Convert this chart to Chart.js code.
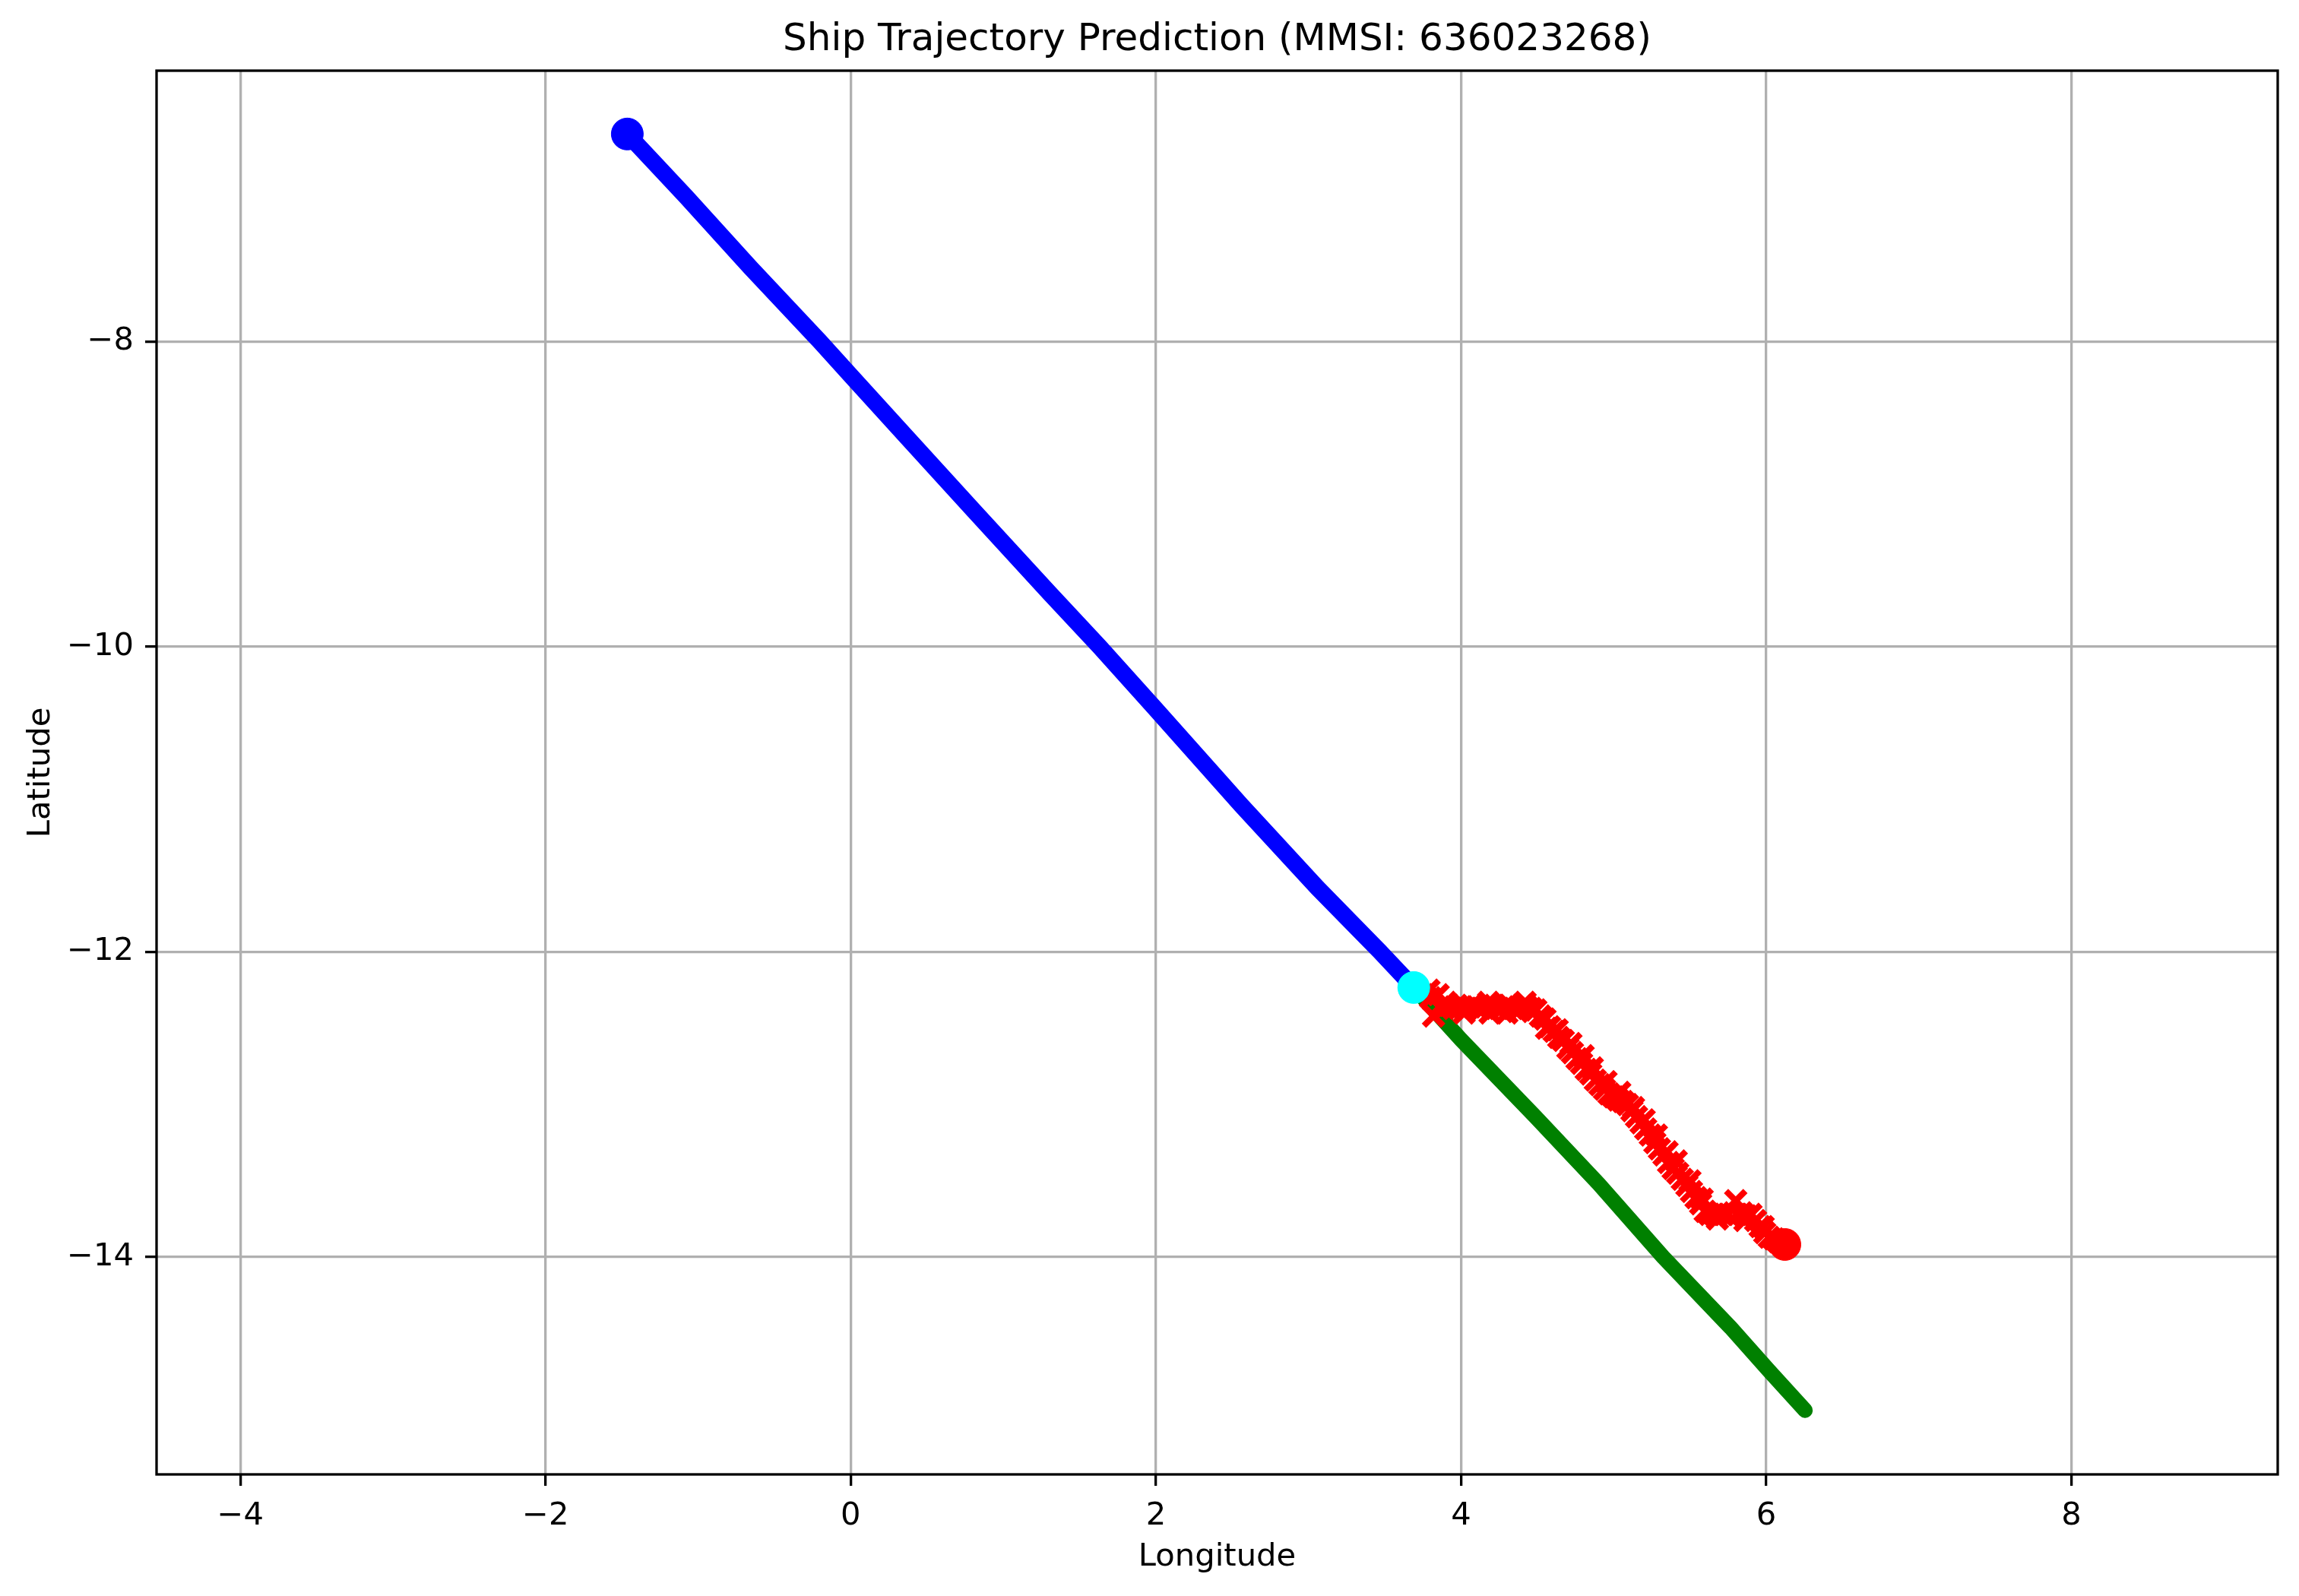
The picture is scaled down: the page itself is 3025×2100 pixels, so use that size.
<!DOCTYPE html>
<html>
<head>
<meta charset="utf-8">
<script src="https://cdn.jsdelivr.net/npm/chart.js@4.4.1/dist/chart.umd.min.js"></script>
<style>
  html, body { margin: 0; padding: 0; background: #fff; }
  canvas { display: block; }
</style>
</head>
<body>
<canvas id="trajChart" width="3025" height="2100" style="width:3025px;height:2100px"></canvas>
<script>
// historical track (blue)
const histLon = [-1.464, -1.079, -0.657, -0.201, 0.0, 0.367, 0.811, 1.301, 1.63, 2.0, 2.561, 3.059, 3.466, 3.69];
const histLat = [-6.639, -7.05, -7.515, -8.0, -8.222, -8.626, -9.112, -9.646, -9.998, -10.41, -11.04, -11.58, -11.995, -12.233];

// actual future track (green)
const trueLon = [3.69, 4.0, 4.487, 4.902, 5.325, 5.765, 6.014, 6.255];
const trueLat = [-12.233, -12.575, -13.08, -13.52, -14.0, -14.46, -14.74, -15.004];

// predicted track (red x)
const predLon = [3.79, 3.80, 3.82, 3.85, 3.86, 3.89, 3.92, 3.95, 3.98, 4.01, 4.04, 4.07, 4.10, 4.13, 4.16, 4.19, 4.22, 4.25, 4.28, 4.31, 4.34, 4.37, 4.40, 4.43, 4.46,
  4.49, 4.52, 4.55, 4.58, 4.61, 4.64, 4.67, 4.70, 4.73, 4.76, 4.79, 4.82, 4.85, 4.88, 4.91, 4.94, 4.97, 5.00, 5.03, 5.06, 5.09, 5.12, 5.15, 5.18,
  5.21, 5.24, 5.27, 5.30, 5.33, 5.36, 5.39, 5.42, 5.45, 5.48, 5.51, 5.54, 5.57, 5.60,
  5.63, 5.66, 5.69, 5.72, 5.75, 5.80, 5.81, 5.84, 5.87, 5.90, 5.93, 5.96, 5.99, 6.02, 6.05, 6.08,
  3.90, 4.02, 4.18, 4.30, 4.42, 4.56, 4.63, 4.72, 4.80, 4.86, 4.95, 5.04, 5.13, 5.20, 5.28, 5.35, 5.41, 5.50, 5.58, 5.68, 5.86, 5.98];
const predLat = [-12.25, -12.30, -12.42, -12.28, -12.36, -12.37, -12.35, -12.37, -12.36, -12.36, -12.37, -12.35, -12.36, -12.37, -12.36, -12.40, -12.35, -12.37, -12.36, -12.35, -12.37, -12.39, -12.35, -12.36, -12.37,
  -12.38, -12.42, -12.44, -12.49, -12.52, -12.56, -12.58, -12.63, -12.66, -12.70, -12.73, -12.77, -12.80, -12.84, -12.87, -12.90, -12.93, -12.95, -12.97, -12.98, -13.00, -13.04, -13.08, -13.12,
  -13.16, -13.20, -13.25, -13.29, -13.33, -13.38, -13.42, -13.45, -13.49, -13.53, -13.57, -13.61, -13.65, -13.70,
  -13.72, -13.72, -13.71, -13.72, -13.72, -13.63, -13.72, -13.71, -13.73, -13.72, -13.76, -13.80, -13.84, -13.87, -13.88, -13.90,
  -12.33, -12.40, -12.33, -12.40, -12.33, -12.50, -12.51, -12.60, -12.68, -12.76, -12.85, -12.92, -13.02, -13.10, -13.20, -13.31, -13.37, -13.50, -13.62, -13.75, -13.76, -13.80];

const startPt = [-1.464, -6.639];
const currentPt = [3.69, -12.233];
const predEndPt = [6.122, -13.917];

const xTicks = [-4, -2, 0, 2, 4, 6, 8];
const yTicks = [-14, -12, -10, -8];
const xRange = [-4.549, 9.352];
const yRange = [-15.424, -6.224];

const titleText = "Ship Trajectory Prediction (MMSI: 636023268)";
const FONT = "DejaVu Sans";

function toPoints(xs, ys) {
  return xs.map((x, i) => ({ x: x, y: ys[i] }));
}

function fmtTick(v) {
  return v < 0 ? "\u2212" + Math.abs(v) : String(v);
}

// title and frame drawn around the chart area
const framePlugin = {
  id: "frame",
  afterDraw(chart) {
    const { ctx, chartArea } = chart;
    ctx.save();
    ctx.strokeStyle = "#000";
    ctx.lineWidth = 3.3;
    ctx.strokeRect(chartArea.left, chartArea.top, chartArea.right - chartArea.left, chartArea.bottom - chartArea.top);
    ctx.fillStyle = "#000";
    ctx.font = "50px '" + FONT + "'";
    ctx.textAlign = "center";
    ctx.textBaseline = "middle";
    ctx.fillText(titleText, (chartArea.left + chartArea.right) / 2, 53);
    ctx.restore();
  }
};

Chart.defaults.font.family = FONT;
Chart.defaults.color = "#000";

const markerDs = (pt, color, order) => ({
  data: [{ x: pt[0], y: pt[1] }],
  pointStyle: "circle",
  pointRadius: 21,
  pointBackgroundColor: color,
  pointBorderColor: color,
  pointBorderWidth: 1,
  order: order
});

new Chart(document.getElementById("trajChart").getContext("2d"), {
  type: "scatter",
  data: {
    datasets: [
      markerDs(predEndPt, "#ff0000", 1),
      markerDs(startPt, "#0000ff", 2),
      markerDs(currentPt, "#00ffff", 2.5),
      {
        data: toPoints(predLon, predLat),
        pointStyle: "crossRot",
        pointRadius: 18,
        pointBorderWidth: 8,
        pointBorderColor: "#ff0000",
        pointBackgroundColor: "#ff0000",
        order: 3
      },
      {
        data: toPoints(trueLon, trueLat),
        showLine: true,
        borderColor: "#008000",
        borderWidth: 20,
        borderCapStyle: "round",
        borderJoinStyle: "round",
        pointRadius: 0,
        tension: 0,
        order: 4
      },
      {
        data: toPoints(histLon, histLat),
        showLine: true,
        borderColor: "#0000ff",
        borderWidth: 22,
        borderCapStyle: "round",
        borderJoinStyle: "round",
        pointRadius: 0,
        tension: 0,
        order: 6
      }
    ]
  },
  options: {
    responsive: false,
    animation: false,
    events: [],
    layout: { padding: { left: 0, right: 28, top: 93, bottom: 0 } },
    plugins: {
      legend: { display: false },
      title: { display: false },
      tooltip: { enabled: false }
    },
    scales: {
      x: {
        type: "linear",
        min: xRange[0],
        max: xRange[1],
        afterBuildTicks: s => { s.ticks = xTicks.map(v => ({ value: v })); },
        afterFit: s => { s.height = 160; },
        grid: { color: "#b0b0b0", lineWidth: 3.3, tickLength: 15, tickColor: "#000", tickWidth: 3.3 },
        border: { display: false },
        ticks: {
          autoSkip: false, maxRotation: 0, padding: 15, color: "#000",
          font: { size: 41.7 },
          callback: v => fmtTick(v)
        },
        title: { display: true, text: "Longitude", color: "#000", font: { size: 41.7 }, padding: { top: 0, bottom: 26 } }
      },
      y: {
        type: "linear",
        min: yRange[0],
        max: yRange[1],
        afterBuildTicks: s => { s.ticks = yTicks.map(v => ({ value: v })); },
        afterFit: s => { s.width = 206; },
        grid: { color: "#b0b0b0", lineWidth: 3.3, tickLength: 15, tickColor: "#000", tickWidth: 3.3 },
        border: { display: false },
        ticks: {
          autoSkip: false, padding: 15, color: "#000",
          font: { size: 41.7 },
          callback: v => fmtTick(v)
        },
        title: { display: true, text: "Latitude", color: "#000", font: { size: 41.7 }, padding: { top: 29, bottom: 0 } }
      }
    }
  },
  plugins: [framePlugin]
});
</script>
</body>
</html>
